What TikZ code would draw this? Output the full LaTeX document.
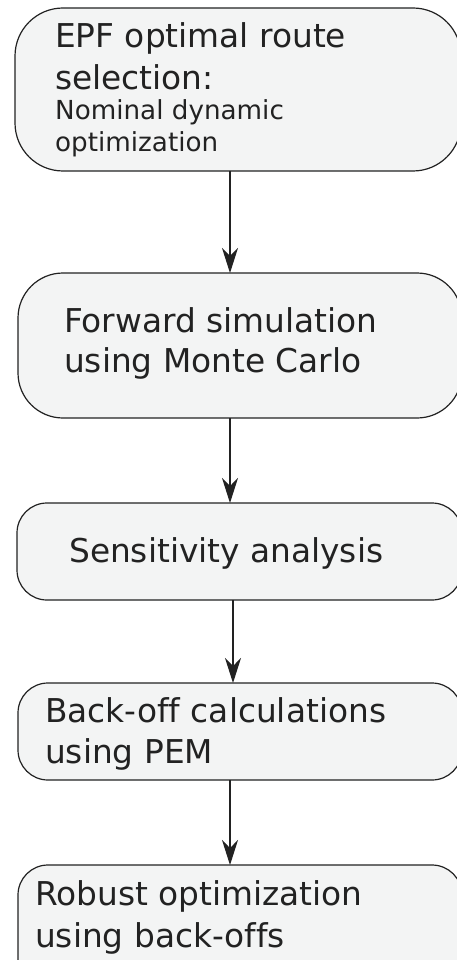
\documentclass[tikz,border=0pt]{standalone}
\usepackage{fontspec}
\setmainfont[Ligatures=NoCommon]{DejaVu Sans}
\usetikzlibrary{arrows.meta}
\definecolor{boxfill}{HTML}{F3F4F4}
\definecolor{ink}{HTML}{222222}
\tikzset{
  box/.style={draw=ink, fill=boxfill, line width=1.2pt, anchor=north west, outer sep=0pt, inner sep=0pt},
  big/.style={anchor=base west, inner sep=0pt, text=ink, font=\fontsize{32.8}{40}\selectfont},
  small/.style={anchor=base west, inner sep=0pt, text=ink, font=\fontsize{26.2}{32}\selectfont},
  arr/.style={draw=ink, line width=1.2pt, -{Stealth[length=25pt,width=16pt,inset=8pt]}}
}
\begin{document}
\begin{tikzpicture}[x=1pt,y=-1pt]
\useasboundingbox (0,0) rectangle (457,960);
\clip (0,0) rectangle (457,960);
\node[box, minimum width=446pt, minimum height=163pt, rounded corners=48pt] (b1) at (15,8) {};
\node[box, minimum width=444pt, minimum height=145pt, rounded corners=45pt] (b2) at (18,273) {};
\node[box, minimum width=445pt, minimum height=97pt, rounded corners=30pt] (b3) at (17,503) {};
\node[box, minimum width=444pt, minimum height=97pt, rounded corners=30pt] (b4) at (18,683) {};
\node[box, minimum width=444pt, minimum height=125pt, rounded corners=30pt] (b5) at (18,865) {};

\node[big] (t1a) at (55,48) {EPF optimal route};
\node[big] (t1b) at (55,90) {selection:};
\node[small] (t1c) at (55,120) {Nominal dynamic};
\node[small] (t1d) at (55,152) {optimization};

\node[big] (t2a) at (64,332) {Forward simulation};
\node[big] (t2b) at (64,372) {using Monte Carlo};

\node[big] (t3a) at (69,562) {Sensitivity analysis};

\node[big] (t4a) at (45,722) {Back-off calculations};
\node[big] (t4b) at (45,763) {using PEM};

\node[big] (t5a) at (35,905) {Robust optimization};
\node[big] (t5b) at (35,947) {using back-offs};

\draw[arr] (b1.south -| 230,0) -- (b2.north -| 230,0);
\draw[arr] (b2.south -| 230,0) -- (b3.north -| 230,0);
\draw[arr] (b3.south -| 233,0) -- (b4.north -| 233,0);
\draw[arr] (b4.south -| 230,0) -- (b5.north -| 230,0);
\end{tikzpicture}
\end{document}
